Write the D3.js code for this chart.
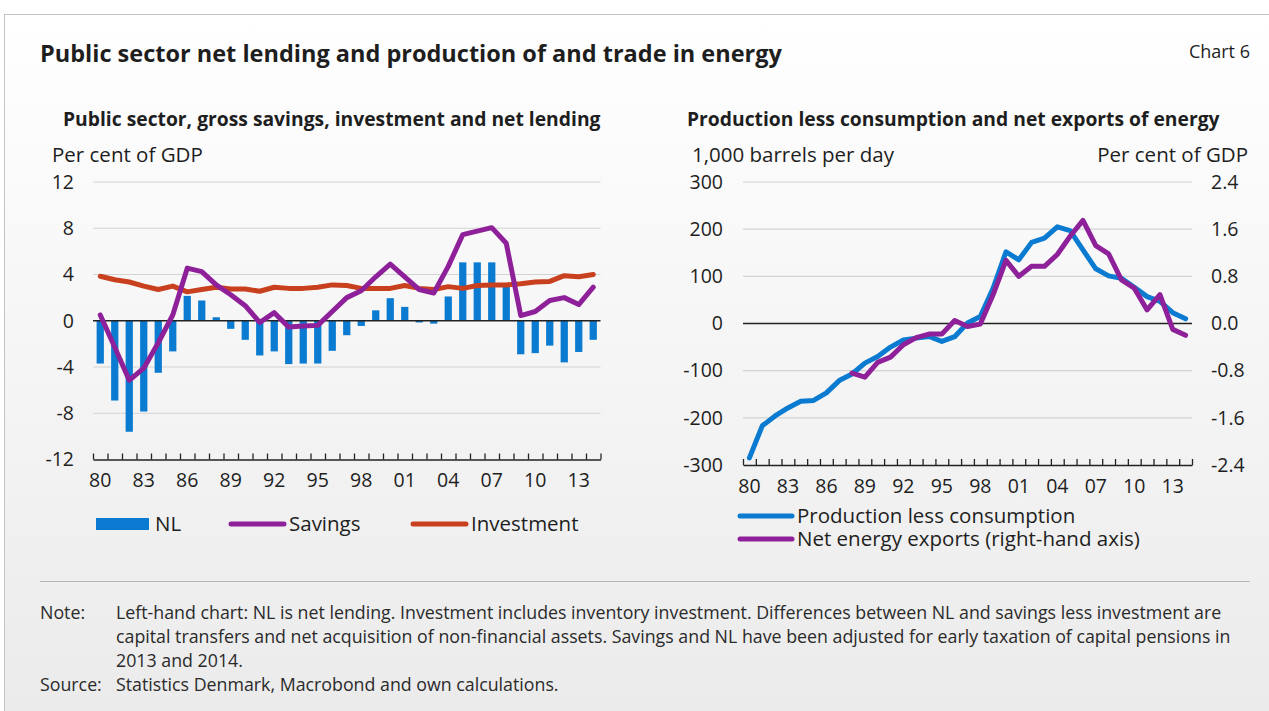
<!DOCTYPE html>
<html><head><meta charset="utf-8">
<script src="https://cdn.jsdelivr.net/npm/d3@7"></script>
<style>
body{margin:0;background:#fff;}
svg{display:block;font-family:'Open Sans',sans-serif;}
</style>
</head><body>
<svg id="c" width="1269" height="711"></svg>
<script>
// ---------- DATA ----------
const years = d3.range(1980, 2015);
const xLabelYears = [1980,1983,1986,1989,1992,1995,1998,2001,2004,2007,2010,2013];
const nl = [-3.7,-6.9,-9.6,-7.85,-4.5,-2.65,2.15,1.75,0.3,-0.7,-1.65,-3.0,-2.65,-3.75,-3.7,-3.7,-2.6,-1.25,-0.45,0.9,1.95,1.2,-0.15,-0.25,2.1,5.05,5.05,5.05,3.25,-2.9,-2.8,-2.15,-3.6,-2.7,-1.65];
const savings = [0.5,-2.3,-5.15,-4.1,-1.9,0.5,4.55,4.25,3.1,2.25,1.3,-0.15,0.7,-0.55,-0.45,-0.4,0.8,2.0,2.6,3.8,4.9,3.8,2.7,2.4,4.7,7.45,7.75,8.05,6.7,0.45,0.8,1.75,2.0,1.4,2.9];
const investment = [3.85,3.55,3.35,3.0,2.7,3.0,2.5,2.7,2.9,2.75,2.75,2.55,2.9,2.8,2.8,2.9,3.1,3.05,2.8,2.8,2.8,3.05,2.8,2.7,2.95,2.8,3.05,3.1,3.1,3.2,3.35,3.4,3.9,3.8,4.0];
const prodLessCons = [-285,-217,-196,-179,-165,-163,-147,-121,-107,-84,-70,-50,-35,-31,-27.5,-38,-28,1,15,75,152,135,172,181,205,197,156,116,101,96,77,57,47,23,10];
const netExportsYears = d3.range(1988, 2015);
const netExports = [-0.84,-0.91,-0.66,-0.57,-0.36,-0.24,-0.18,-0.18,0.05,-0.05,-0.01,0.49,1.07,0.8,0.97,0.97,1.17,1.48,1.75,1.32,1.18,0.74,0.60,0.23,0.49,-0.10,-0.20];
const leftTicks = [-12,-8,-4,0,4,8,12];
const energyTicks = [-300,-200,-100,0,100,200,300];
const gdpTicks = [-2.4,-1.6,-0.8,0,0.8,1.6,2.4];

const BLUE = "#0a7bd0", PURPLE = "#8e2199", RED = "#c9401f", TXT = "#1e1e1e", GRID = "#d3d3d3";
const TICK_FS = 19.5, HEAD_FS = 20.5, LEG_FS = 20.5;

const svg = d3.select("#c");
// background
const defs = svg.append("defs");
const lg = defs.append("linearGradient").attr("id","bg").attr("x1",0).attr("y1",0).attr("x2",0).attr("y2",1);
lg.append("stop").attr("offset","0%").attr("stop-color","#ffffff");
lg.append("stop").attr("offset","100%").attr("stop-color","#ebebeb");
svg.append("rect").attr("x",0).attr("y",0).attr("width",1269).attr("height",711).attr("fill","#fff");
svg.append("rect").attr("x",4).attr("y",14).attr("width",1265).attr("height",697).attr("fill","url(#bg)");
svg.append("line").attr("x1",4).attr("x2",1269).attr("y1",14.5).attr("y2",14.5).attr("stroke","#c4c4c4");
svg.append("line").attr("x1",4.5).attr("x2",4.5).attr("y1",14).attr("y2",711).attr("stroke","#c4c4c4");

// titles
svg.append("text").attr("x",40).attr("y",62).attr("font-size",23.5).attr("font-weight","bold").attr("fill",TXT)
  .text("Public sector net lending and production of and trade in energy");
svg.append("text").attr("x",1250).attr("y",58).attr("text-anchor","end").attr("font-size",18).attr("fill",TXT).text("Chart 6");

function fmtYear(y){ return String(y).slice(2); }
const fmtInt = d => String(d);
const fmt1 = d => d.toFixed(1);

function styleTicks(sel){
  sel.select(".domain").remove();
  sel.selectAll("text").attr("font-size",TICK_FS).attr("fill",TXT).attr("font-family","'Open Sans',sans-serif");
}

// ---------- LEFT CHART ----------
{
  const x = d3.scaleBand().domain(years).range([93,600.5]).paddingInner(0.5).paddingOuter(0.25);
  const y = d3.scaleLinear().domain([-12,12]).range([459.5,182]);
  const g = svg.append("g");
  g.append("text").attr("x",63).attr("y",126).attr("font-size",19.3).attr("font-weight","bold").attr("fill",TXT)
    .text("Public sector, gross savings, investment and net lending");
  g.append("text").attr("x",52).attr("y",162).attr("font-size",HEAD_FS).attr("fill",TXT).text("Per cent of GDP");
  g.selectAll(".grid").data(leftTicks.filter(t=>t!==0 && t!==-12)).join("line")
    .attr("x1",93).attr("x2",600.5).attr("y1",d=>y(d)).attr("y2",d=>y(d)).attr("stroke",GRID).attr("stroke-width",1.2);
  g.append("g").attr("transform","translate(93,0)")
    .call(d3.axisLeft(y).tickValues(leftTicks).tickSize(0).tickPadding(19).tickFormat(fmtInt)).call(styleTicks);
  g.selectAll(".bar").data(years.map((yr,i)=>({yr,v:nl[i]}))).join("rect")
    .attr("x",d=>x(d.yr)).attr("width",x.bandwidth())
    .attr("y",d=>y(Math.max(0,d.v))).attr("height",d=>Math.abs(y(d.v)-y(0)))
    .attr("fill",BLUE);
  g.append("line").attr("x1",93).attr("x2",600.5).attr("y1",y(0)).attr("y2",y(0)).attr("stroke","#222").attr("stroke-width",1.5);
  const cx = yr => x(yr)+x.bandwidth()/2;
  const line = d3.line().x(d=>cx(d.yr)).y(d=>y(d.v));
  g.append("path").datum(years.map((yr,i)=>({yr,v:investment[i]}))).attr("d",line)
    .attr("fill","none").attr("stroke",RED).attr("stroke-width",5).attr("stroke-linejoin","round").attr("stroke-linecap","round");
  g.append("path").datum(years.map((yr,i)=>({yr,v:savings[i]}))).attr("d",line)
    .attr("fill","none").attr("stroke",PURPLE).attr("stroke-width",5).attr("stroke-linejoin","round").attr("stroke-linecap","round");
  const xb = d3.scaleLinear().domain([1979.5,2014.5]).range([93,600.5]);
  const xt = g.append("g").attr("transform",`translate(0,${y(-12)})`)
    .call(d3.axisTop(xb).tickValues(d3.range(1979.5,2015,1)).tickSize(6).tickSizeOuter(0).tickFormat(""));
  xt.selectAll("line").attr("stroke","#222").attr("stroke-width",1.3);
  xt.select(".domain").attr("stroke","#222").attr("stroke-width",1.5);
  g.append("g").attr("transform",`translate(0,${y(-12)})`)
    .call(d3.axisBottom(x).tickValues(xLabelYears).tickSize(0).tickPadding(14).tickFormat(fmtYear)).call(styleTicks);
  const lgG = g.append("g");
  lgG.append("rect").attr("x",96).attr("y",518).attr("width",53).attr("height",12).attr("fill",BLUE);
  lgG.append("text").attr("x",155).attr("y",531).attr("font-size",LEG_FS).attr("fill",TXT).text("NL");
  lgG.append("line").attr("x1",231).attr("x2",284).attr("y1",524).attr("y2",524).attr("stroke",PURPLE).attr("stroke-width",5).attr("stroke-linecap","round");
  lgG.append("text").attr("x",289).attr("y",531).attr("font-size",LEG_FS).attr("fill",TXT).text("Savings");
  lgG.append("line").attr("x1",413).attr("x2",466).attr("y1",524).attr("y2",524).attr("stroke",RED).attr("stroke-width",5).attr("stroke-linecap","round");
  lgG.append("text").attr("x",471).attr("y",531).attr("font-size",LEG_FS).attr("fill",TXT).text("Investment");
}

// ---------- RIGHT CHART ----------
{
  const x = d3.scaleBand().domain(years).range([743,1192]);
  const yL = d3.scaleLinear().domain([-300,300]).range([465,182]);
  const yR = d3.scaleLinear().domain([-2.4,2.4]).range([465,182]);
  const g = svg.append("g");
  g.append("text").attr("x",687).attr("y",126).attr("font-size",19.3).attr("font-weight","bold").attr("fill",TXT)
    .text("Production less consumption and net exports of energy");
  g.append("text").attr("x",692).attr("y",162).attr("font-size",HEAD_FS).attr("fill",TXT).text("1,000 barrels per day");
  g.append("text").attr("x",1248).attr("y",162).attr("text-anchor","end").attr("font-size",HEAD_FS).attr("fill",TXT).text("Per cent of GDP");
  g.selectAll(".grid").data(energyTicks.filter(t=>t!==0 && t!==-300)).join("line")
    .attr("x1",743).attr("x2",1192).attr("y1",d=>yL(d)).attr("y2",d=>yL(d)).attr("stroke",GRID).attr("stroke-width",1.2);
  g.append("g").attr("transform","translate(743,0)")
    .call(d3.axisLeft(yL).tickValues(energyTicks).tickSize(0).tickPadding(20).tickFormat(fmtInt)).call(styleTicks);
  g.append("g").attr("transform","translate(1192,0)")
    .call(d3.axisRight(yR).tickValues(gdpTicks).tickSize(0).tickPadding(19).tickFormat(fmt1)).call(styleTicks);
  g.append("line").attr("x1",743).attr("x2",1192).attr("y1",yL(0)).attr("y2",yL(0)).attr("stroke","#222").attr("stroke-width",1.5);
  const cx = yr => x(yr)+x.bandwidth()/2;
  g.append("path").datum(years.map((yr,i)=>({yr,v:prodLessCons[i]})))
    .attr("d",d3.line().x(d=>cx(d.yr)).y(d=>yL(d.v)))
    .attr("fill","none").attr("stroke",BLUE).attr("stroke-width",5).attr("stroke-linejoin","round").attr("stroke-linecap","round");
  g.append("path").datum(netExportsYears.map((yr,i)=>({yr,v:netExports[i]})))
    .attr("d",d3.line().x(d=>cx(d.yr)).y(d=>yR(d.v)))
    .attr("fill","none").attr("stroke",PURPLE).attr("stroke-width",5).attr("stroke-linejoin","round").attr("stroke-linecap","round");
  const xb = d3.scaleLinear().domain([1979.5,2014.5]).range([743,1192]);
  const xt = g.append("g").attr("transform",`translate(0,${yL(-300)})`)
    .call(d3.axisTop(xb).tickValues(d3.range(1979.5,2015,1)).tickSize(6).tickSizeOuter(0).tickFormat(""));
  xt.selectAll("line").attr("stroke","#222").attr("stroke-width",1.3);
  xt.select(".domain").attr("stroke","#222").attr("stroke-width",1.5);
  g.append("g").attr("transform",`translate(0,${yL(-300)})`)
    .call(d3.axisBottom(x).tickValues(xLabelYears).tickSize(0).tickPadding(14).tickFormat(fmtYear)).call(styleTicks);
  const lgG = g.append("g");
  lgG.append("line").attr("x1",740).attr("x2",792).attr("y1",516).attr("y2",516).attr("stroke",BLUE).attr("stroke-width",5).attr("stroke-linecap","round");
  lgG.append("text").attr("x",797).attr("y",523).attr("font-size",LEG_FS).attr("fill",TXT).text("Production less consumption");
  lgG.append("line").attr("x1",740).attr("x2",792).attr("y1",539).attr("y2",539).attr("stroke",PURPLE).attr("stroke-width",5).attr("stroke-linecap","round");
  lgG.append("text").attr("x",797).attr("y",546).attr("font-size",LEG_FS).attr("fill",TXT).text("Net energy exports (right-hand axis)");
}

// ---------- NOTES ----------
svg.append("line").attr("x1",40).attr("x2",1250).attr("y1",581.5).attr("y2",581.5).attr("stroke","#b8b8b8").attr("stroke-width",1.2);
const noteLines = [
  "Left-hand chart: NL is net lending. Investment includes inventory investment. Differences between NL and savings less investment are",
  "capital transfers and net acquisition of non-financial assets. Savings and NL have been adjusted for early taxation of capital pensions in",
  "2013 and 2014."
];
const notes = svg.append("g").attr("font-size",17.8).attr("fill","#2a2a2a");
notes.append("text").attr("x",40).attr("y",619).text("Note:");
noteLines.forEach((t,i)=>notes.append("text").attr("x",116).attr("y",619+i*24).text(t));
notes.append("text").attr("x",40).attr("y",691).text("Source:");
notes.append("text").attr("x",116).attr("y",691).text("Statistics Denmark, Macrobond and own calculations.");
</script>
</body></html>
